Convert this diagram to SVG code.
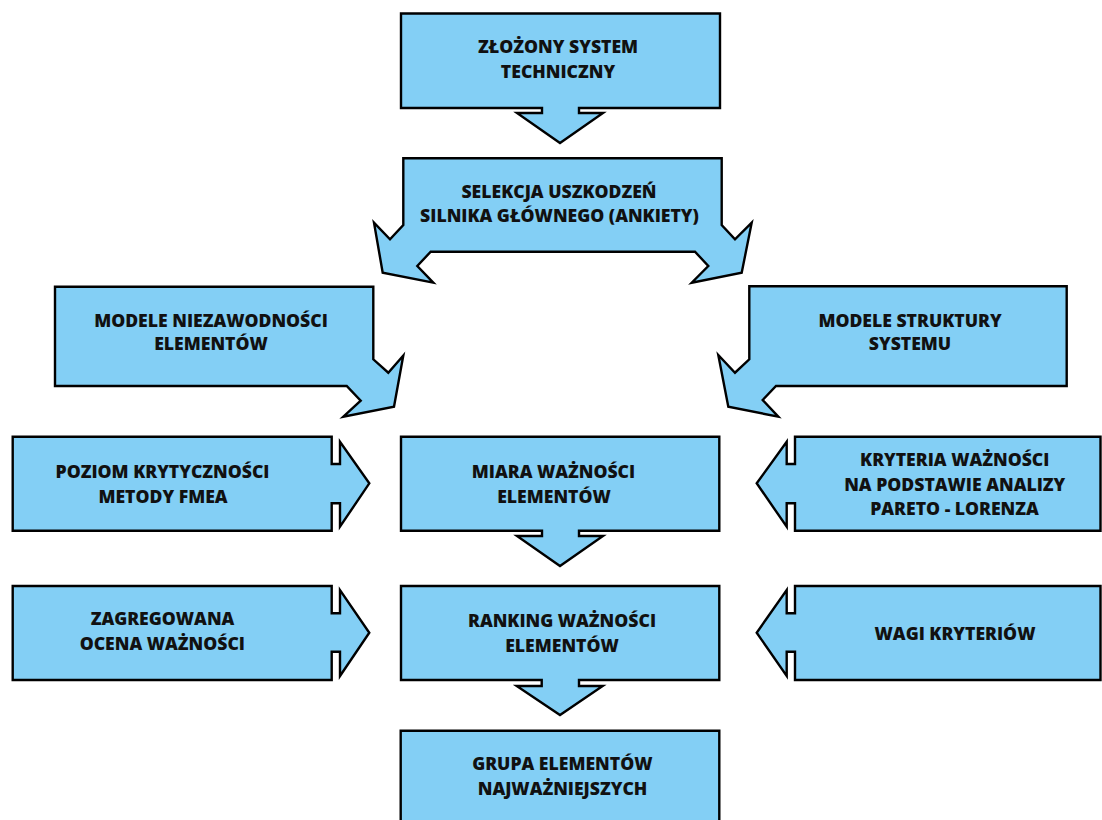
<svg xmlns="http://www.w3.org/2000/svg" width="1102" height="820" viewBox="0 0 1102 820">
<style>
.s{fill:#83CFF5;stroke:#000;stroke-width:2.4;stroke-linejoin:miter}
.t{font-family:"Open Sans","Noto Sans",sans-serif;font-weight:800;font-size:17.6px;fill:#111;text-anchor:middle}
</style>
<rect width="1102" height="820" fill="#fff"/>
<g id="connectors"></g>
<g id="n1">
<path class="s" d="M401,13.5 H720 V108 H579 V113 H603 L560,143 L517,113 H542 V108 H401 Z"/>
<text class="t" x="558" y="53">ZŁOŻONY SYSTEM</text>
<text class="t" x="558" y="77.5">TECHNICZNY</text>
</g>
<g id="n2">
<path class="s" d="M403.3,158.3 H721.7 V225 L735,239.3 L751.7,222.7 L741.7,272.7 L691.7,282.7 L708.3,266 L695,251.7 H430.7 L417.3,266 L433.3,282.7 L382.7,272.7 L374,222.7 L390,239.3 L403.3,225 Z"/>
<text class="t" x="559" y="197.5">SELEKCJA USZKODZEŃ</text>
<text class="t" x="559.5" y="221.8">SILNIKA GŁÓWNEGO (ANKIETY)</text>
</g>
<g id="n3">
<path class="s" d="M55,286.7 H373.3 V359.3 L388.3,372.7 L403.3,355.5 L394,406.7 L343.3,416.7 L360.7,400.7 L346.7,386 H55 Z"/>
<text class="t" x="211" y="326.7">MODELE NIEZAWODNOŚCI</text>
<text class="t" x="211" y="350">ELEMENTÓW</text>
</g>
<g id="n4">
<path class="s" d="M749.3,286.3 H1066.7 V386 H776 L762.7,400 L778.3,416.7 L728.3,406.7 L718.3,355 L735,372.7 L749.3,359.3 Z"/>
<text class="t" x="910" y="326.7">MODELE STRUKTURY</text>
<text class="t" x="910" y="350">SYSTEMU</text>
</g>
<g id="n5">
<path class="s" d="M12.7,436.7 H331.7 V464 H340 V441.7 L369.3,483.3 L340,526.7 V503.3 H331.7 V530.7 H12.7 Z"/>
<text class="t" x="162.5" y="478.3">POZIOM KRYTYCZNOŚCI</text>
<text class="t" x="163" y="503.3">METODY FMEA</text>
</g>
<g id="n6">
<path class="s" d="M401,436.7 H719.3 V530.7 H579 V536 H603 L560,566 L517,536 H542 V530.7 H401 Z"/>
<text class="t" x="553.5" y="478.3">MIARA WAŻNOŚCI</text>
<text class="t" x="554" y="503.3">ELEMENTÓW</text>
</g>
<g id="n7">
<path class="s" d="M1100.5,436.7 H795 V464 H786.7 V441.7 L756.7,483.3 L786.7,526.7 V503.3 H795 V530.7 H1100.5 Z"/>
<text class="t" x="954.7" y="466">KRYTERIA WAŻNOŚCI</text>
<text class="t" x="954.7" y="490.7">NA PODSTAWIE ANALIZY</text>
<text class="t" x="954.5" y="515">PARETO - LORENZA</text>
</g>
<g id="n8">
<path class="s" d="M12.7,586 H331.7 V613.3 H340 V590 L369.3,632.7 L340,676 V651.7 H331.7 V680 H12.7 Z"/>
<text class="t" x="162.5" y="625">ZAGREGOWANA</text>
<text class="t" x="162.3" y="650">OCENA WAŻNOŚCI</text>
</g>
<g id="n9">
<path class="s" d="M401,586 H719.3 V680 H579 V686 H602.7 L560,715 L516.7,686 H541.7 V680 H401 Z"/>
<text class="t" x="562" y="627">RANKING WAŻNOŚCI</text>
<text class="t" x="562" y="652">ELEMENTÓW</text>
</g>
<g id="n10">
<path class="s" d="M1100.5,586 H795 V613.3 H786.7 V590 L756.7,632.7 L786.7,676 V651.7 H795 V680 H1100.5 Z"/>
<text class="t" x="955" y="640">WAGI KRYTERIÓW</text>
</g>
<g id="n11">
<path class="s" d="M400.7,830 V730.7 H719.3 V830"/>
<text class="t" x="562.3" y="770">GRUPA ELEMENTÓW</text>
<text class="t" x="562.5" y="795">NAJWAŻNIEJSZYCH</text>
</g>
</svg>
